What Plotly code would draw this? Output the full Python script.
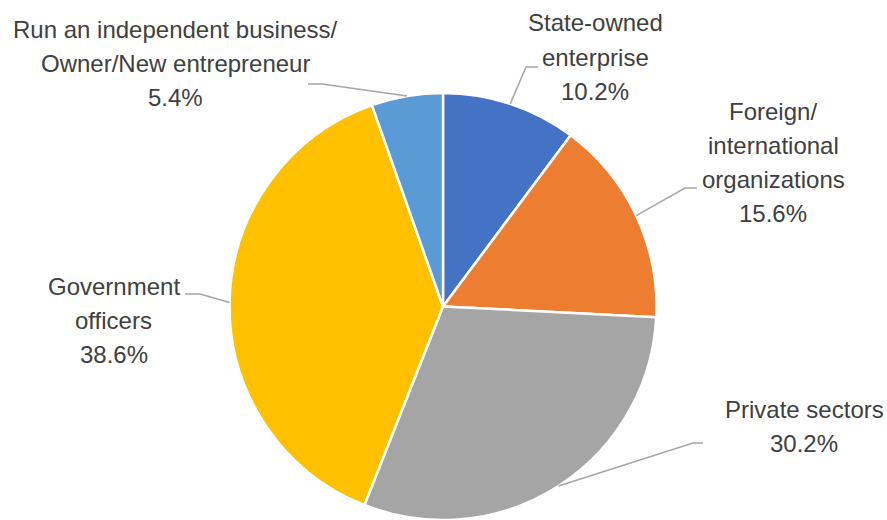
import math
import plotly.graph_objects as go

# Employment sectors of graduates (share in %)
labels = [
    "State-owned<br>enterprise",
    "Foreign/<br>international<br>organizations",
    "Private sectors",
    "Government<br>officers",
    "Run an independent business/<br>Owner/New entrepreneur",
]
values = [10.2, 15.6, 30.2, 38.6, 5.4]
colors = ["#4472C4", "#ED7D31", "#A5A5A5", "#FFC000", "#5B9BD5"]

W, H = 887, 520
CX, CY, R = 443, 306.5, 213.5  # pie centre / radius in pixels

# label block centre (px) and leader-line elbow / end (px)
label_pos = [(595, 57), (773, 162), (804, 426), (114, 320), (175, 63)]
leader_elbow = [(526, 67), (685, 188), (693, 443), (200, 294), (322, 84)]
leader_end = [(538, 67), (697, 188), (703, 443), (185, 294), (308, 84)]

LINE_H = 34
TEXT_COLOR = "#404040"

fig = go.Figure(
    go.Pie(
        labels=[l.replace("<br>", " ") for l in labels],
        values=values,
        sort=False,
        direction="clockwise",
        rotation=0,
        marker=dict(colors=colors, line=dict(color="white", width=2.5)),
        textinfo="none",
        hoverinfo="label+percent",
        domain=dict(x=[(CX - R) / W, (CX + R) / W], y=[0, 2 * R / H]),
        showlegend=False,
    )
)


def px(x, y):
    return x / W, 1 - y / H


total = sum(values)
annotations = []
shapes = []
cum = 0.0
for lab, val, (lx, ly), (ex, ey), (tx, ty) in zip(
    labels, values, label_pos, leader_elbow, leader_end
):
    mid = (cum + val / 2) / total * 2 * math.pi
    cum += val
    sx = CX + R * math.sin(mid)
    sy = CY - R * math.cos(mid)
    lines = lab.split("<br>") + [f"{val:.1f}%"]
    n = len(lines)
    for i, t in enumerate(lines):
        yy = ly + (i - (n - 1) / 2) * LINE_H
        ax, ay = px(lx, yy)
        annotations.append(
            dict(
                x=ax, y=ay, xref="paper", yref="paper", text=t, showarrow=False,
                xanchor="center", yanchor="middle",
                font=dict(family="Liberation Sans, Arial", size=24, color=TEXT_COLOR),
            )
        )
    p = [px(sx, sy), px(ex, ey), px(tx, ty)]
    path = "M {} {} L {} {} L {} {}".format(*[c for pt in p for c in pt])
    shapes.append(
        dict(type="path", path=path, xref="paper", yref="paper",
             line=dict(color="#A6A6A6", width=1.5))
    )

fig.update_layout(
    width=W, height=H,
    margin=dict(l=0, r=0, t=0, b=0),
    paper_bgcolor="white",
    plot_bgcolor="white",
    annotations=annotations,
    shapes=shapes,
)

fig.write_html("out.html")
